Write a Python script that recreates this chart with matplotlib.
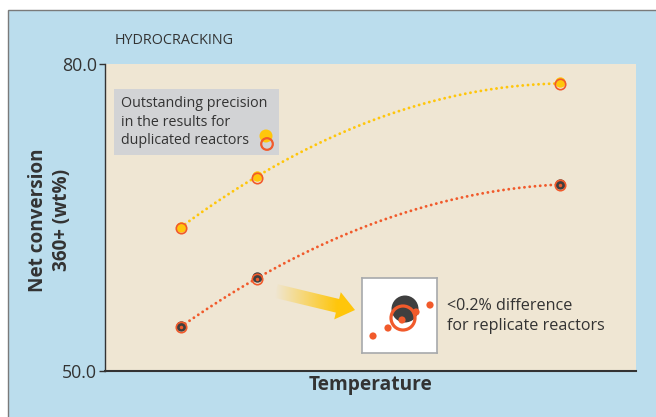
import numpy as np
import matplotlib
matplotlib.use("Agg")
import matplotlib.pyplot as plt
from matplotlib.patches import Rectangle, Circle, Polygon

# ---- data ----
temperature = [1, 2, 6]
yellow_reactor_a = [64.1, 69.1, 78.2]
yellow_reactor_b = [64.0, 68.9, 78.0]
red_reactor_a = [54.35, 59.15, 68.3]
red_reactor_b = [54.3, 58.95, 68.15]
y_ticks = [50.0, 80.0]
y_tick_labels = ["50.0", "80.0"]

FONT = "Open Sans"
plt.rcParams['font.family'] = [FONT, 'DejaVu Sans']

BLUE = "#BBDDED"
BEIGE = "#EFE6D3"
YEL = "#FFC60B"
ORG = "#F15A2B"
DARK = "#3F3F3F"
TXT = "#333333"

W, H = 656, 417
fig = plt.figure(figsize=(W/100, H/100), dpi=100)
fig.patch.set_facecolor("white")
fig.patches.append(Rectangle((8/W, -0.05), 1.2, 1 - 10/H + 0.05, transform=fig.transFigure,
                             facecolor=BLUE, edgecolor="#7A7A7A", lw=1.0, zorder=-10))

ax = fig.add_axes([105/W, 1 - 371/H, 531/W, 307/H])
ax.set_facecolor(BEIGE)
ax.set_xlim(0, 7)
ax.set_ylim(50, 80)
for s in ["top", "right"]:
    ax.spines[s].set_visible(False)
ax.spines["left"].set_color(TXT)
ax.spines["left"].set_linewidth(1.0)
ax.spines["bottom"].set_color(TXT)
ax.spines["bottom"].set_linewidth(1.5)
ax.set_xticks([])
ax.set_yticks(y_ticks)
ax.set_yticklabels(y_tick_labels)
ax.tick_params(axis="y", length=4, width=1, color=TXT, labelcolor=TXT, labelsize=12.8, pad=2)

# trend curves
xs = np.linspace(temperature[0], temperature[-1], 200)
dots = (0, (0.01, 1.8))
for ya, yb, col in [(yellow_reactor_a, yellow_reactor_b, YEL), (red_reactor_a, red_reactor_b, ORG)]:
    mean = (np.array(ya) + np.array(yb)) / 2
    c = np.polyfit(temperature, mean, 2)
    ax.plot(xs, np.polyval(c, xs), color=col, lw=2.1, linestyle=dots, dash_capstyle="round", zorder=2)

ax.plot(temperature, yellow_reactor_a, "o", color=YEL, ms=7.5, mec="none", zorder=3)
ax.plot(temperature, yellow_reactor_b, "o", mfc="none", mec=ORG, ms=7.5, mew=1.2, zorder=4)
ax.plot(temperature, red_reactor_a, "o", color=DARK, ms=7.5, mec="none", zorder=3)
ax.plot(temperature, red_reactor_b, "o", mfc="none", mec=ORG, ms=7.5, mew=1.2, zorder=4)
ax.plot(temperature, red_reactor_b, "o", color=ORG, ms=2.5, mec="none", zorder=5)

ax.set_xlabel("Temperature", fontsize=13.8, fontweight="bold", color=TXT, labelpad=3)
fig.text(50/W, 1 - 220/H, "Net conversion\n360+ (wt%)", rotation=90, ha="center", va="center",
         fontsize=13.6, fontweight="bold", color=TXT, linespacing=1.3)
fig.text(115/W, 1 - 40/H, "HYDROCRACKING", ha="left", va="center", fontsize=10.4, color=TXT)

# overlay in pixel coordinates for annotations
ov = fig.add_axes([0, 0, 1, 1], facecolor="none")
ov.set_xlim(0, W)
ov.set_ylim(H, 0)
ov.axis("off")

ov.add_patch(Rectangle((114, 89), 165, 66, facecolor="#D2D3D5", edgecolor="none"))
ov.text(121, 122, "Outstanding precision\nin the results for\nduplicated reactors", ha="left", va="center",
        fontsize=10.3, color=TXT, linespacing=1.33)
ov.add_patch(Circle((266, 136), 6.5, facecolor=YEL, edgecolor="none"))
ov.add_patch(Circle((267, 144), 5.8, facecolor="none", edgecolor=ORG, lw=1.6))

# gradient arrow
S = np.array([276.0, 291.0]); E = np.array([355.0, 310.0])
u = (E - S) / np.linalg.norm(E - S); n = np.array([-u[1], u[0]])
B = E - u * 18
pts = [S - n*7, B - n*7, B - n*14, E, B + n*14, B + n*7, S + n*7]
poly = Polygon(pts, closed=True, facecolor="none", edgecolor="none")
ov.add_patch(poly)
g = np.zeros((2, 200, 4))
rgb = matplotlib.colors.to_rgb(YEL)
g[..., 0], g[..., 1], g[..., 2] = rgb
g[..., 3] = np.clip(np.linspace(0, 1.3, 200), 0, 1)[None, :]
im = ov.imshow(g, extent=[275, 356, 325, 280], aspect="auto", interpolation="bilinear", zorder=5)
im.set_clip_path(poly)
ov.set_xlim(0, W); ov.set_ylim(H, 0)

# inset icon
ins = fig.add_axes([362/W, 1 - 353/H, 75/W, 75/H])
ins.set_facecolor("white")
ins.set_xlim(0, 75); ins.set_ylim(75, 0)
ins.set_xticks([]); ins.set_yticks([])
for s in ins.spines.values():
    s.set_color("#A7A9AC"); s.set_linewidth(1.2)
ins.add_patch(Circle((43, 31), 13.5, facecolor=DARK, edgecolor="none"))
ins.add_patch(Circle((41, 40), 12, facecolor="none", edgecolor=ORG, lw=2.3))
for (px, py) in [(11, 58), (26, 50), (40, 42), (54, 34), (68, 27)]:
    ins.add_patch(Circle((px, py), 3.6, facecolor=ORG, edgecolor="none"))

ov.text(447, 316, "<0.2% difference\nfor replicate reactors", ha="left", va="center",
        fontsize=11.6, color=TXT, linespacing=1.3)

fig.savefig("out.png", dpi=100)
